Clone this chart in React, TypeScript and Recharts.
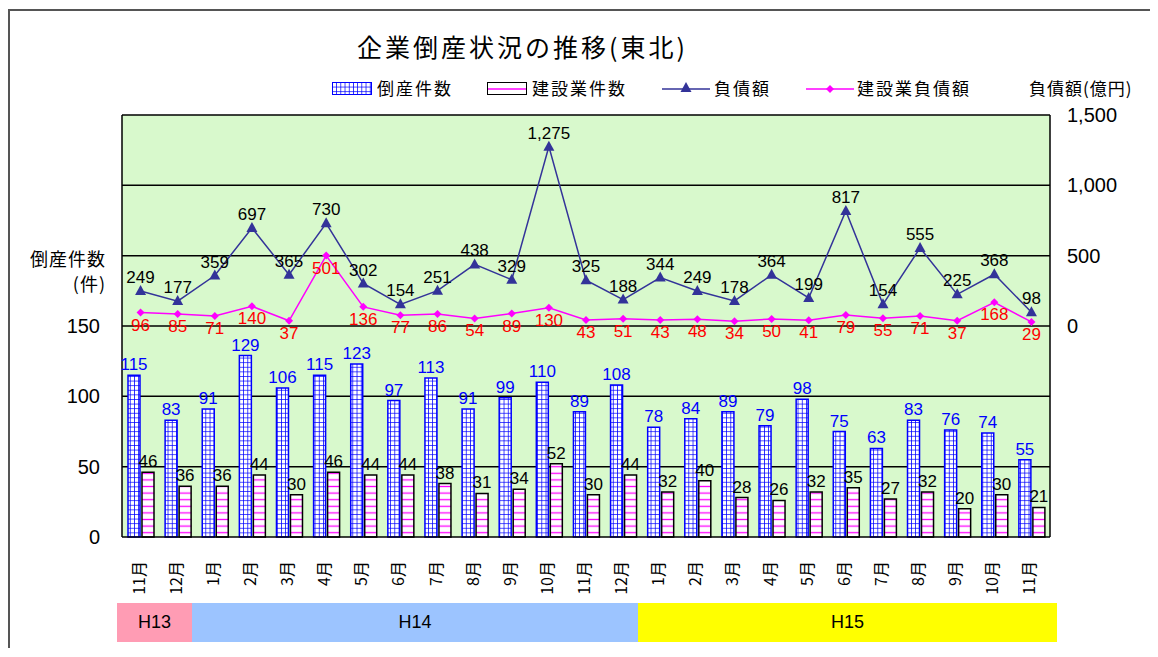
import React from 'react';
import {
  ComposedChart,
  Bar,
  Line,
  XAxis,
  YAxis,
  CartesianGrid,
  LabelList,
} from 'recharts';

const months = [
  '11月', '12月', '1月', '2月', '3月', '4月', '5月', '6月', '7月', '8月', '9月', '10月', '11月',
  '12月', '1月', '2月', '3月', '4月', '5月', '6月', '7月', '8月', '9月', '10月', '11月',
];
const tosanCount = [115, 83, 91, 129, 106, 115, 123, 97, 113, 91, 99, 110, 89, 108, 78, 84, 89, 79, 98, 75, 63, 83, 76, 74, 55];
const kensetsuCount = [46, 36, 36, 44, 30, 46, 44, 44, 38, 31, 34, 52, 30, 44, 32, 40, 28, 26, 32, 35, 27, 32, 20, 30, 21];
const fusai = [249, 177, 359, 697, 365, 730, 302, 154, 251, 438, 329, 1275, 325, 188, 344, 249, 178, 364, 199, 817, 154, 555, 225, 368, 98];
const kensetsuFusai = [96, 85, 71, 140, 37, 501, 136, 77, 86, 54, 89, 130, 43, 51, 43, 48, 34, 50, 41, 79, 55, 71, 37, 168, 29];

const leftTicks = [0, 50, 100, 150];
const rightTicks = [0, 500, 1000, 1500];
const gridValues = [50, 100, 150, 200, 250, 300];

const eras = [
  { name: 'H13', color: '#ff9cb4' },
  { name: 'H14', color: '#9cc4ff' },
  { name: 'H15', color: '#ffff00' },
];

const data = months.map((m, i) => ({
  month: m,
  tosan: tosanCount[i],
  kensetsu: kensetsuCount[i],
  fusai: fusai[i],
  kenFusai: kensetsuFusai[i],
}));

const NUM_FONT = '"Liberation Sans", "Noto Sans CJK JP", sans-serif';
const JP_FONT = '"Noto Sans CJK JP", "Liberation Sans", sans-serif';

const MonthTick = (props: any) => {
  const { x, y, payload } = props;
  const ty = y + 24;
  return (
    <text
      x={x - 3}
      y={ty}
      transform={`rotate(-90, ${x - 3}, ${ty})`}
      textAnchor="end"
      dominantBaseline="central"
      fontSize={16}
      fontFamily={JP_FONT}
      fill="#000"
    >
      {payload.value}
    </text>
  );
};

const Triangle = (props: any) => {
  const { cx, cy } = props;
  if (cx == null || cy == null) return null;
  return <path d={`M${cx},${cy - 6} L${cx + 5.5},${cy + 4} L${cx - 5.5},${cy + 4} Z`} fill="#333399" />;
};

const Diamond = (props: any) => {
  const { cx, cy } = props;
  if (cx == null || cy == null) return null;
  return <path d={`M${cx},${cy - 4} L${cx + 4},${cy} L${cx},${cy + 4} L${cx - 4},${cy} Z`} fill="#ff00ff" />;
};

const legendText: React.CSSProperties = {
  position: 'absolute',
  top: 70,
  fontSize: 17,
  fontFamily: JP_FONT,
  letterSpacing: 2,
  lineHeight: '20px',
  color: '#000',
};

export default function App() {
  return (
    <div style={{ position: 'relative', width: 1142, height: 640, overflow: 'hidden', background: '#fff' }}>
      <div
        style={{
          position: 'absolute',
          left: 0,
          top: 1,
          width: 1200,
          height: 700,
          borderLeft: '2px solid #555',
          borderTop: '2px solid #555',
        }}
      />
      <svg width={0} height={0} style={{ position: 'absolute' }}>
        <defs>
          <pattern id="gridBlue" patternUnits="userSpaceOnUse" width={4.2} height={4.6}>
            <rect width={4.2} height={4.6} fill="#fff" />
            <path d="M0,0 L4.2,0 M0,0 L0,4.6" stroke="#0000ff" strokeWidth={1.5} />
          </pattern>
          <pattern id="stripePink" patternUnits="userSpaceOnUse" width={6} height={6.6}>
            <rect width={6} height={6.6} fill="#fff" />
            <path d="M0,3.3 L6,3.3" stroke="#ff00ff" strokeWidth={1.3} />
          </pattern>
        </defs>
      </svg>

      <div
        style={{
          position: 'absolute',
          left: 349,
          top: 20,
          fontSize: 25,
          letterSpacing: 3,
          fontFamily: JP_FONT,
          color: '#000',
          whiteSpace: 'nowrap',
        }}
      >
        企業倒産状況の推移(東北)
      </div>

      {/* legend */}
      <svg style={{ position: 'absolute', left: 324, top: 74 }} width={40} height={13}>
        <rect x={0.5} y={0.5} width={39} height={12} fill="url(#gridBlue)" stroke="#0000ff" />
      </svg>
      <div style={{ ...legendText, left: 369 }}>倒産件数</div>
      <svg style={{ position: 'absolute', left: 479, top: 74 }} width={40} height={13}>
        <rect x={0.5} y={0.5} width={39} height={12} fill="#fff" stroke="#000" />
        <line x1={1} x2={39} y1={7} y2={7} stroke="#ff00ff" strokeWidth={1.5} />
      </svg>
      <div style={{ ...legendText, left: 524 }}>建設業件数</div>
      <svg style={{ position: 'absolute', left: 654, top: 72 }} width={48} height={16}>
        <line x1={0} x2={48} y1={9} y2={9} stroke="#333399" strokeWidth={1.5} />
        <Triangle cx={24} cy={8} />
      </svg>
      <div style={{ ...legendText, left: 706 }}>負債額</div>
      <svg style={{ position: 'absolute', left: 798, top: 72 }} width={48} height={16}>
        <line x1={0} x2={48} y1={9} y2={9} stroke="#ff00ff" strokeWidth={1.5} />
        <Diamond cx={24} cy={9} />
      </svg>
      <div style={{ ...legendText, left: 849 }}>建設業負債額</div>
      <div style={{ ...legendText, left: 1021, letterSpacing: 1 }}>負債額(億円)</div>

      {/* left axis title */}
      <div
        style={{
          position: 'absolute',
          left: 14,
          top: 238,
          width: 84,
          textAlign: 'right',
          fontSize: 18,
          letterSpacing: 1,
          lineHeight: '25px',
          fontFamily: JP_FONT,
          color: '#000',
        }}
      >
        倒産件数
        <br />
        (件)
      </div>

      <div style={{ position: 'absolute', left: 0, top: 0 }}>
        <ComposedChart
          width={1142}
          height={640}
          data={data}
          margin={{ top: 107, right: 20, left: 54, bottom: 41 }}
          barGap={2}
          barCategoryGap="15%"
        >
          <CartesianGrid
            yAxisId="left"
            vertical={false}
            horizontalValues={gridValues}
            stroke="#000"
            strokeWidth={1.5}
            fill="#d8f9cc"
            fillOpacity={1}
          />
          <XAxis
            dataKey="month"
            interval={0}
            height={70}
            tickLine={false}
            tickSize={0}
            tickMargin={0}
            axisLine={{ stroke: '#000', strokeWidth: 1.5 }}
            tick={<MonthTick />}
          />
          <YAxis
            yAxisId="left"
            orientation="left"
            width={60}
            domain={[0, 300]}
            ticks={leftTicks}
            interval={0}
            tickLine={false}
            tickSize={0}
            tickMargin={22}
            axisLine={{ stroke: '#000', strokeWidth: 1.5 }}
            tick={{ fill: '#000', fontSize: 20, fontFamily: NUM_FONT }}
          />
          <YAxis
            yAxisId="right"
            orientation="right"
            width={80}
            domain={[-1500, 1500]}
            ticks={rightTicks}
            interval={0}
            tickLine={false}
            tickSize={0}
            tickMargin={17}
            axisLine={{ stroke: '#000', strokeWidth: 1.5 }}
            tickFormatter={(v: number) => v.toLocaleString('en-US')}
            tick={{ fill: '#000', fontSize: 20, fontFamily: NUM_FONT }}
          />
          <Bar
            yAxisId="left"
            dataKey="tosan"
            barSize={12}
            fill="url(#gridBlue)"
            stroke="#0000ff"
            strokeWidth={1.5}
            isAnimationActive={false}
          >
            <LabelList
              dataKey="tosan"
              position="top"
              offset={5}
              fill="#0000ff"
              fontSize={17}
              fontFamily={NUM_FONT}
            />
          </Bar>
          <Bar
            yAxisId="left"
            dataKey="kensetsu"
            barSize={12}
            fill="url(#stripePink)"
            stroke="#000"
            strokeWidth={1.5}
            isAnimationActive={false}
          >
            <LabelList
              dataKey="kensetsu"
              position="top"
              offset={5}
              fill="#000"
              fontSize={17}
              fontFamily={NUM_FONT}
            />
          </Bar>
          <Line
            yAxisId="right"
            dataKey="fusai"
            stroke="#333399"
            strokeWidth={1.5}
            dot={<Triangle />}
            activeDot={false}
            isAnimationActive={false}
          >
            <LabelList
              dataKey="fusai"
              position="top"
              offset={8}
              fill="#000"
              fontSize={17}
              fontFamily={NUM_FONT}
              formatter={(v: any) => Number(v).toLocaleString('en-US')}
            />
          </Line>
          <Line
            yAxisId="right"
            dataKey="kenFusai"
            stroke="#ff00ff"
            strokeWidth={1.5}
            dot={<Diamond />}
            activeDot={false}
            isAnimationActive={false}
          >
            <LabelList
              dataKey="kenFusai"
              position="bottom"
              offset={6}
              fill="#ff0000"
              fontSize={17}
              fontFamily={NUM_FONT}
            />
          </Line>
        </ComposedChart>
      </div>

      {/* era band */}
      <div style={{ position: 'absolute', left: 109, top: 595, height: 39, display: 'flex' }}>
        {eras.map((e, i) => (
          <div
            key={e.name}
            style={{
              width: [75, 446, 419][i],
              height: 39,
              background: e.color,
              display: 'flex',
              alignItems: 'center',
              justifyContent: 'center',
              fontSize: 18,
              fontFamily: NUM_FONT,
              color: '#000',
            }}
          >
            {e.name}
          </div>
        ))}
      </div>
    </div>
  );
}
